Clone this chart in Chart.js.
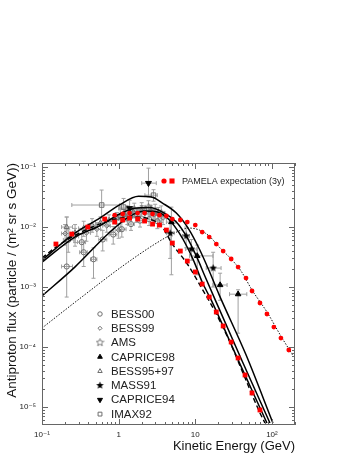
<!DOCTYPE html>
<html>
<head>
<meta charset="utf-8">
<script src="https://cdn.jsdelivr.net/npm/chart.js@4.4.1/dist/chart.umd.min.js"></script>
<style>
  html, body { margin: 0; padding: 0; background: #fff; }
  #wrap { width: 354px; height: 458px; }
</style>
</head>
<body>
<div id="wrap"><canvas id="flux" width="354" height="458"></canvas></div>
<script>
// axis ticks
const xTickVals = [0.1, 1, 10, 100];
const xTickLabels = ['10⁻¹', '1', '10', '10²'];
const yTickVals = [1e-5, 1e-4, 1e-3, 1e-2, 1e-1];
const yTickLabels = ['10⁻⁵', '10⁻⁴', '10⁻³', '10⁻²', '10⁻¹'];

// model curves (kinetic energy GeV, flux)
const s1E = [0.1, 0.268, 0.566, 1.03, 1.82, 2.68, 3.73, 5.66, 8.36, 11.3, 15.2, 20.5, 45.9, 103];
const s1F = [0.0028, 0.0079, 0.0141, 0.0235, 0.0325, 0.0316, 0.0251, 0.0171, 0.0089, 0.0043, 0.00185, 0.00074, 7.4e-5, 5.4e-6];
const s2E = [0.1, 0.268, 0.566, 1.03, 1.61, 2.53, 3.73, 5.66, 7.87, 10.3, 13.5, 18.2, 40.7, 94.2];
const s2F = [0.0026, 0.0068, 0.0105, 0.0165, 0.0205, 0.0212, 0.0178, 0.0121, 0.0066, 0.0033, 0.00147, 0.00061, 5.9e-5, 5.4e-6];
const s3E = [0.1, 0.268, 0.741, 1.35, 2.18, 3.21, 4.59, 6.19, 7.87, 9.70, 12.3, 16.1, 37.3, 86.1];
const s3F = [0.00071, 0.00215, 0.0079, 0.0147, 0.0185, 0.0178, 0.0131, 0.0079, 0.0046, 0.0026, 0.00121, 0.00061, 5.6e-5, 5.4e-6];
const dashE = [0.1, 0.152, 0.245, 0.396, 0.658, 1.03, 1.61, 2.53, 3.62, 5.02, 7.87, 12.3, 18.8, 29.4, 44.6, 69.8, 81.1];
const dashF = [0.00304, 0.00464, 0.00681, 0.00926, 0.0121, 0.0141, 0.0147, 0.0136, 0.0104, 0.0052, 0.00242, 0.00093, 0.000355, 0.000108, 3.04e-5, 7.94e-6, 5.41e-6];
const dotE = [0.1, 0.294, 1.13, 3.12, 5.33, 8.36, 11.3, 15.2, 20.5, 29.4, 39.5, 55.0, 86.1, 131, 193];
const dotF = [0.000207, 0.000607, 0.00224, 0.00541, 0.00794, 0.00962, 0.00891, 0.00708, 0.00464, 0.00293, 0.00185, 0.000891, 0.000383, 0.000152, 6.81e-5];

// PAMELA expectation (3y)
const pamCircE = [0.887, 1.13, 1.39, 1.77, 2.18, 2.77, 3.41, 4.20, 5.02, 6.38, 7.87, 10.0, 12.3, 15.2, 18.8, 23.1, 29.4, 36.2, 45.9, 55.0, 69.8, 86.1, 106, 131, 166];
const pamCircF = [0.0158, 0.0165, 0.0171, 0.0171, 0.0171, 0.0165, 0.0158, 0.0153, 0.0136, 0.0131, 0.0121, 0.0108, 0.00825, 0.00681, 0.00521, 0.00398, 0.00293, 0.00215, 0.00141, 0.000858, 0.000541, 0.000355, 0.000215, 0.000141, 8.9e-5];
const pamSqE = [0.152, 0.245, 0.396, 0.658, 0.887, 1.13, 1.39, 1.77, 2.18, 2.77, 3.41, 4.20, 5.02, 6.38, 7.87, 10.0, 12.3, 15.2, 18.8, 23.1, 29.4, 36.2, 44.6, 55.0, 69.8];
const pamSqF = [0.00521, 0.00764, 0.0100, 0.0136, 0.0121, 0.0131, 0.0141, 0.0136, 0.0126, 0.0112, 0.0108, 0.00891, 0.00541, 0.00398, 0.00271, 0.00178, 0.00112, 0.000681, 0.000383, 0.000224, 0.000121, 6.56e-5, 3.41e-5, 1.71e-5, 8.9e-6];

// measurements: [E, flux, Emin, Emax, fluxMin, fluxMax]
const bess00 = [
  [0.21, 0.0022, 0.18, 0.25, 0.00068, 0.0147],
  [0.22, 0.0061, 0.19, 0.26, 0.0038, 0.0090],
  [0.33, 0.0056, 0.29, 0.37, 0.0038, 0.0078],
  [0.35, 0.0038, 0.31, 0.39, 0.0022, 0.0056],
  [0.47, 0.0029, 0.43, 0.52, 0.0014, 0.0045],
  [0.62, 0.0062, 0.55, 0.70, 0.0040, 0.0088],
  [0.85, 0.0075, 0.75, 0.95, 0.0052, 0.0102],
  [1.1, 0.0092, 0.98, 1.25, 0.0068, 0.0120],
  [1.45, 0.0112, 1.3, 1.6, 0.0088, 0.0140],
  [1.9, 0.0128, 1.7, 2.1, 0.0100, 0.0158],
  [2.5, 0.0135, 2.2, 2.8, 0.0106, 0.0166],
  [3.2, 0.0125, 2.8, 3.6, 0.0094, 0.0158]
];
const bess99 = [
  [0.2, 0.0078, 0.18, 0.23, 0.0050, 0.0110],
  [0.27, 0.0070, 0.24, 0.30, 0.0048, 0.0095],
  [0.38, 0.0080, 0.34, 0.43, 0.0058, 0.0104],
  [0.52, 0.0092, 0.46, 0.58, 0.0070, 0.0116],
  [0.7, 0.0105, 0.62, 0.78, 0.0082, 0.0130],
  [1.0, 0.0089, 0.9, 1.1, 0.0065, 0.0115],
  [1.3, 0.0138, 1.15, 1.45, 0.0110, 0.0168],
  [1.7, 0.0150, 1.5, 1.9, 0.0120, 0.0182],
  [2.2, 0.0170, 1.95, 2.5, 0.0138, 0.0205],
  [2.9, 0.0160, 2.5, 3.3, 0.0128, 0.0195],
  [3.8, 0.0142, 3.3, 4.2, 0.0110, 0.0178]
];
const ams = [
  [1.05, 0.0145, 1.0, 1.15, 0.0100, 0.0195],
  [1.3, 0.0172, 1.15, 1.45, 0.0125, 0.0225],
  [1.6, 0.0195, 1.45, 1.8, 0.0145, 0.0250],
  [2.0, 0.0200, 1.8, 2.2, 0.0150, 0.0255],
  [2.45, 0.0215, 2.2, 2.7, 0.0160, 0.0275],
  [3.0, 0.0185, 2.7, 3.3, 0.0135, 0.0240],
  [3.6, 0.0170, 3.3, 4.0, 0.0120, 0.0225]
];
const caprice98 = [
  [4.88, 0.0121, 4.2, 5.6, 0.0016, 0.0215],
  [10.6, 0.0033, 8.4, 17.0, 0.0016, 0.0050],
  [21.1, 0.00108, 17.0, 26.0, 0.0006, 0.0017],
  [36.2, 0.00076, 28.0, 47.0, 0.00017, 0.0009]
];
const bess9597 = [
  [0.21, 0.0100, 0.18, 0.25, 0.0062, 0.0147],
  [0.27, 0.0080, 0.25, 0.30, 0.0055, 0.0110],
  [0.35, 0.0095, 0.30, 0.40, 0.0070, 0.0125],
  [0.45, 0.0108, 0.40, 0.50, 0.0082, 0.0138],
  [0.58, 0.0118, 0.50, 0.66, 0.0092, 0.0148],
  [0.75, 0.0130, 0.66, 0.85, 0.0103, 0.0160],
  [0.95, 0.0142, 0.85, 1.05, 0.0112, 0.0175],
  [1.2, 0.0160, 1.05, 1.35, 0.0128, 0.0195],
  [1.55, 0.0178, 1.35, 1.75, 0.0142, 0.0218],
  [2.0, 0.0186, 1.75, 2.3, 0.0148, 0.0228],
  [2.6, 0.0188, 2.3, 3.0, 0.0148, 0.0232],
  [3.3, 0.0168, 3.0, 3.6, 0.0128, 0.0212]
];
const mass91 = [
  [4.7, 0.0079, 4.2, 5.3, 0.0030, 0.0140],
  [7.6, 0.0071, 6.8, 8.4, 0.0045, 0.0100],
  [8.9, 0.0043, 7.5, 10.5, 0.0028, 0.0062],
  [17.1, 0.00207, 13.9, 21.7, 0.0010, 0.0038]
];
const caprice94 = [
  [1.39, 0.0205, 1.0, 2.0, 0.013, 0.028],
  [2.45, 0.054, 2.0, 3.1, 0.032, 0.096]
];
const imax92 = [
  [0.60, 0.0233, 0.245, 1.03, 0.0141, 0.0414],
  [1.16, 0.0215, 1.03, 1.3, 0.015, 0.030],
  [2.85, 0.034, 2.2, 3.2, 0.027, 0.042]
];

const FONT = '"Liberation Sans", Arial, "DejaVu Sans", sans-serif';
const GREY = '#6e6e6e';

function zip(xs, ys) { return xs.map((x, i) => ({ x: x, y: ys[i] })); }
function rowsToPts(rows) { return rows.map(r => ({ x: r[0], y: r[1] })); }

function starImage(size, filled, color) {
  const c = document.createElement('canvas');
  c.width = c.height = size;
  const g = c.getContext('2d');
  const cx = size / 2, r = size / 2 - 0.6, ri = r * 0.45;
  g.beginPath();
  for (let i = 0; i < 10; i++) {
    const a = -Math.PI / 2 + i * Math.PI / 5;
    const rr = i % 2 ? ri : r;
    g.lineTo(cx + rr * Math.cos(a), cx + rr * Math.sin(a));
  }
  g.closePath();
  if (filled) { g.fillStyle = color; g.fill(); }
  else { g.strokeStyle = color; g.lineWidth = 0.9; g.stroke(); }
  return c;
}
const starOpen = starImage(9, false, GREY);
const starFull = starImage(9, true, '#000');

function curve(label, xs, ys, color, width, dash) {
  return {
    label: label, data: zip(xs, ys), showLine: true, pointRadius: 0,
    borderColor: color, borderWidth: width, borderDash: dash || [],
    cubicInterpolationMode: 'monotone', fill: false
  };
}
function expt(label, rows, style, filled, radius, rotation) {
  return {
    label: label, data: rowsToPts(rows), errors: rows, legend: true,
    pointStyle: style, pointRadius: radius, rotation: rotation || 0,
    pointBorderWidth: 1, pointBorderColor: filled ? '#000' : GREY,
    pointBackgroundColor: filled ? '#000' : 'rgba(0,0,0,0)',
    showLine: false
  };
}

const datasets = [
  { label: 'PAMELA circles', data: zip(pamCircE, pamCircF), pointStyle: 'circle', pointRadius: 2.4,
    pointBackgroundColor: '#f00', pointBorderColor: '#f00', pointBorderWidth: 0, showLine: false },
  { label: 'PAMELA squares', data: zip(pamSqE, pamSqF), pointStyle: 'rect', pointRadius: 3.4,
    pointBackgroundColor: '#f00', pointBorderColor: '#f00', pointBorderWidth: 0, showLine: false },
  curve('s1', s1E, s1F, '#000', 1.5),
  curve('s2', s2E, s2F, '#000', 1.5),
  curve('s3', s3E, s3F, '#000', 1.5),
  curve('dash', dashE, dashF, '#000', 1.4, [5, 3]),
  curve('dot', dotE, dotF, '#111', 1, [1.5, 1.5]),
  expt('BESS00', bess00, 'circle', false, 2.6),
  expt('BESS99', bess99, 'rectRot', false, 2.4),
  expt('AMS', ams, starOpen, false, 4),
  expt('CAPRICE98', caprice98, 'triangle', true, 3.2),
  expt('BESS95+97', bess9597, 'triangle', false, 3),
  expt('MASS91', mass91, starFull, true, 4),
  expt('CAPRICE94', caprice94, 'triangle', true, 3.4, 180),
  expt('IMAX92', imax92, 'rect', false, 3.2)
];

const errorBars = {
  id: 'errorBars',
  beforeDatasetsDraw(chart) {
    const { ctx, chartArea: a, scales: { x, y } } = chart;
    ctx.save();
    ctx.beginPath(); ctx.rect(a.left, a.top, a.width, a.height); ctx.clip();
    ctx.strokeStyle = '#a0a0a0';
    ctx.lineWidth = 1;
    chart.data.datasets.forEach(ds => {
      if (!ds.errors) return;
      ds.errors.forEach(r => {
        const px = x.getPixelForValue(r[0]), py = y.getPixelForValue(r[1]);
        const x0 = x.getPixelForValue(r[2]), x1 = x.getPixelForValue(r[3]);
        const y0 = y.getPixelForValue(r[4]), y1 = y.getPixelForValue(r[5]);
        ctx.beginPath();
        ctx.moveTo(x0, py); ctx.lineTo(x1, py);
        ctx.moveTo(px, y0); ctx.lineTo(px, y1);
        ctx.moveTo(x0, py - 2); ctx.lineTo(x0, py + 2);
        ctx.moveTo(x1, py - 2); ctx.lineTo(x1, py + 2);
        ctx.moveTo(px - 2, y0); ctx.lineTo(px + 2, y0);
        ctx.moveTo(px - 2, y1); ctx.lineTo(px + 2, y1);
        ctx.stroke();
      });
    });
    ctx.restore();
  }
};

const frameTicks = {
  id: 'frameTicks',
  afterDraw(chart) {
    const { ctx, chartArea: a, scales: { x, y } } = chart;
    ctx.save();
    ctx.strokeStyle = '#666';
    ctx.lineWidth = 1;
    ctx.strokeRect(Math.round(a.left) + 0.5, Math.round(a.top) + 0.5,
      Math.round(a.width) - 1, Math.round(a.height) - 1);
    ctx.beginPath();
    for (let d = -2; d <= 3; d++) {
      for (let k = 1; k < 10; k++) {
        const v = k * Math.pow(10, d);
        const L = k === 1 ? 6 : 3;
        if (v >= x.min && v <= x.max) {
          const p = Math.round(x.getPixelForValue(v)) + 0.5;
          ctx.moveTo(p, a.bottom); ctx.lineTo(p, a.bottom - L);
          ctx.moveTo(p, a.top); ctx.lineTo(p, a.top + L);
        }
      }
    }
    for (let d = -6; d <= 0; d++) {
      for (let k = 1; k < 10; k++) {
        const v = k * Math.pow(10, d);
        const L = k === 1 ? 6 : 3;
        if (v >= y.min && v <= y.max) {
          const p = Math.round(y.getPixelForValue(v)) + 0.5;
          ctx.moveTo(a.left, p); ctx.lineTo(a.left + L, p);
          ctx.moveTo(a.right, p); ctx.lineTo(a.right - L, p);
        }
      }
    }
    ctx.stroke();

    // legends
    const drawPoint = Chart.helpers.drawPoint;
    ctx.font = '11.5px ' + FONT;
    ctx.textBaseline = 'middle';
    ctx.textAlign = 'left';
    let row = 0;
    chart.data.datasets.forEach(ds => {
      if (!ds.legend) return;
      const ly = 314 + row * 14.3;
      ctx.fillStyle = ds.pointBackgroundColor;
      ctx.strokeStyle = ds.pointBorderColor;
      ctx.lineWidth = 1;
      drawPoint(ctx, { pointStyle: ds.pointStyle, radius: ds.pointRadius * 0.85,
        rotation: ds.rotation, borderWidth: 1 }, 100, ly);
      ctx.fillStyle = '#222';
      ctx.fillText(ds.label, 111, ly + 0.5);
      row++;
    });
    ctx.fillStyle = '#f00';
    drawPoint(ctx, { pointStyle: 'circle', radius: 2.6, borderWidth: 0 }, 164, 181);
    drawPoint(ctx, { pointStyle: 'rect', radius: 3.6, borderWidth: 0 }, 172, 181);
    ctx.fillStyle = '#222';
    ctx.font = '9px ' + FONT;
    ctx.fillText('PAMELA expectation (3y)', 182, 181.5);
    ctx.restore();
  }
};

new Chart(document.getElementById('flux'), {
  type: 'scatter',
  data: { datasets: datasets },
  plugins: [errorBars, frameTicks],
  options: {
    responsive: false,
    animation: false,
    events: [],
    layout: { padding: { top: 163, right: 59, left: 0, bottom: 0 } },
    plugins: { legend: { display: false }, tooltip: { enabled: false } },
    scales: {
      x: {
        type: 'logarithmic', min: 0.1, max: 200,
        grid: { display: false }, border: { display: false },
        afterFit: s => { s.height = 33; },
        afterBuildTicks: s => { s.ticks = xTickVals.map(v => ({ value: v })); },
        ticks: {
          autoSkip: false, maxRotation: 0, padding: -3, color: '#222',
          font: { size: 8, family: FONT },
          callback: v => xTickLabels[xTickVals.indexOf(v)]
        },
        title: { display: true, text: 'Kinetic Energy (GeV)', align: 'end', color: '#111',
          font: { size: 13, family: FONT }, padding: { top: 0, bottom: 4 } }
      },
      y: {
        type: 'logarithmic', min: 5e-6, max: 0.117,
        grid: { display: false }, border: { display: false },
        afterFit: s => { s.width = 42; },
        afterBuildTicks: s => { s.ticks = yTickVals.map(v => ({ value: v })); },
        ticks: {
          autoSkip: false, padding: -2, color: '#222',
          font: { size: 8, family: FONT },
          callback: v => yTickLabels[yTickVals.indexOf(v)]
        },
        title: { display: true, text: 'Antiproton flux (particle / (m² sr s GeV))', align: 'end', color: '#111',
          font: { size: 13.5, family: FONT }, padding: { top: 4, bottom: 0 } }
      }
    }
  }
});
</script>
</body>
</html>
